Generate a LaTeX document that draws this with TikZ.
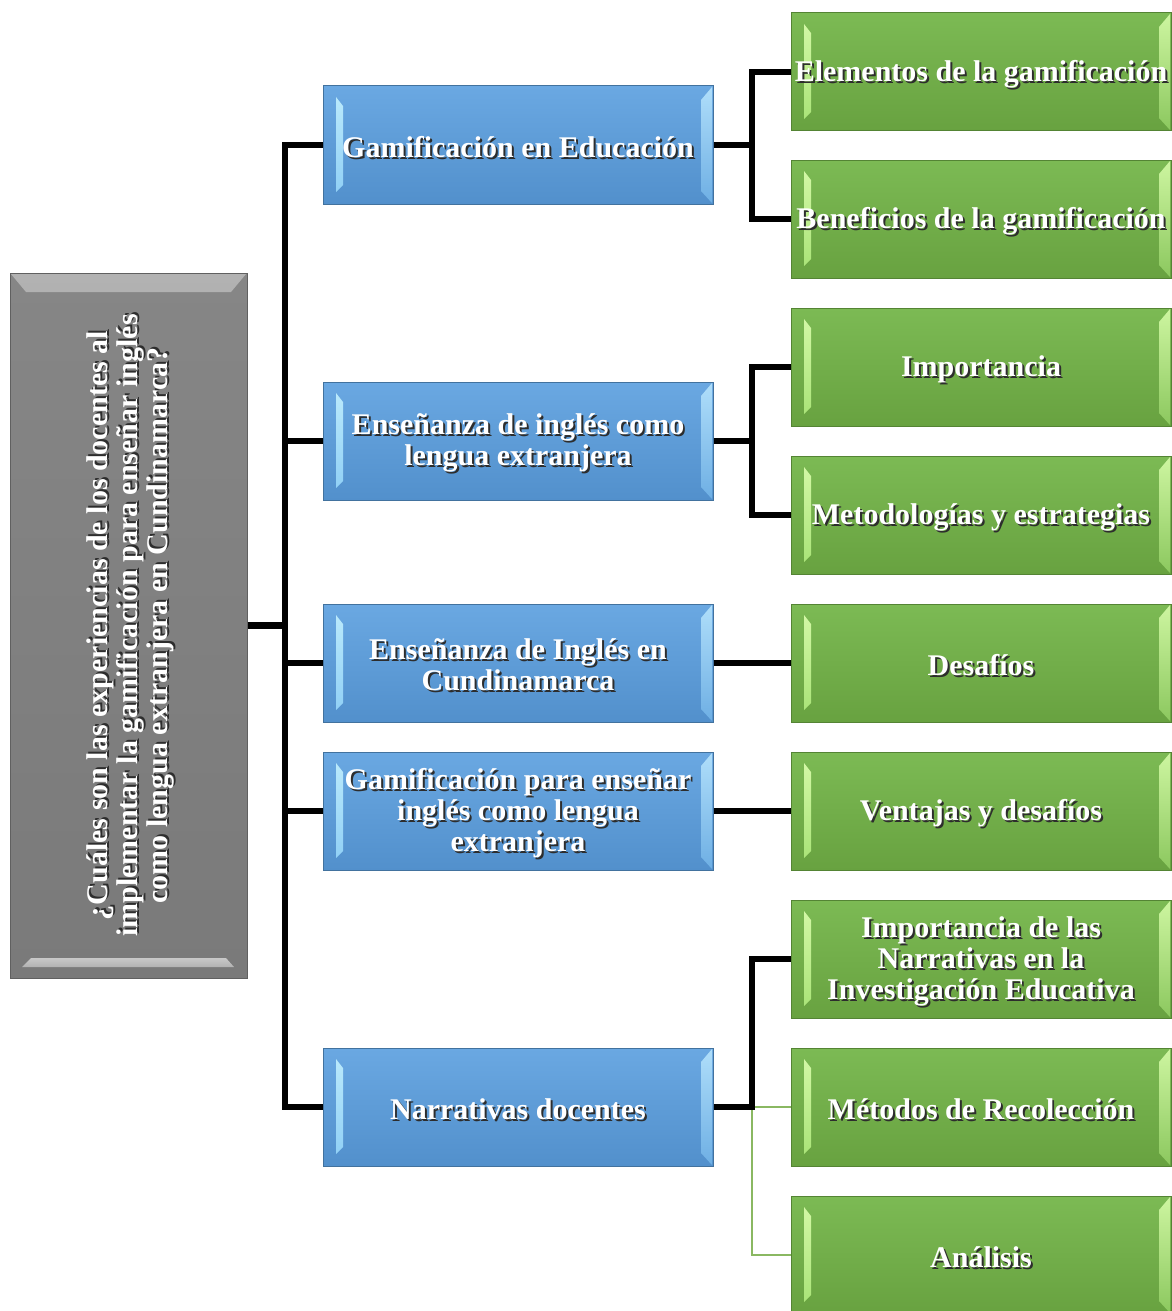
\documentclass[tikz,border=0pt]{standalone}
\usepackage{fontspec}
\setmainfont{Liberation Serif}
\usepackage{graphicx}
\usetikzlibrary{calc}

% fills, outlines and bevel highlights
\definecolor{bluetop}{RGB}{106,168,226}
\definecolor{bluebot}{RGB}{82,144,204}
\definecolor{blueline}{RGB}{66,114,158}
\definecolor{bluebevA}{RGB}{190,236,252}
\definecolor{bluebevB}{RGB}{140,205,245}
\definecolor{bluebevC}{RGB}{175,222,250}
\definecolor{bluebevD}{RGB}{110,175,228}
\definecolor{greentop}{RGB}{124,186,84}
\definecolor{greenbot}{RGB}{104,162,64}
\definecolor{greenline}{RGB}{84,132,52}
\definecolor{greenbevA}{RGB}{215,250,170}
\definecolor{greenbevB}{RGB}{165,225,115}
\definecolor{greenbevC}{RGB}{205,245,160}
\definecolor{greenbevD}{RGB}{140,200,95}
\definecolor{graytop}{RGB}{134,134,134}
\definecolor{graybot}{RGB}{122,122,122}
\definecolor{grayline}{RGB}{96,96,96}
\definecolor{graybevA}{RGB}{200,200,200}
\definecolor{graybevB}{RGB}{140,140,140}
\definecolor{graybevC}{RGB}{178,178,178}
\definecolor{thingreen}{RGB}{138,184,98}
\definecolor{txtshadow}{RGB}{45,45,45}

% white label with a soft dark drop shadow, set slightly low in its box
\newcommand{\sh}[1]{\raisebox{-3pt}[\height][\depth]{%
  \makebox[0pt][l]{\hspace{2pt}\raisebox{-2pt}{\textcolor{txtshadow}{#1}}}#1}}

\tikzset{
  conn/.style={line width=6.8pt, draw=black},
  thinconn/.style={line width=2pt, draw=thingreen},
  box/.style={rectangle, line width=1pt, minimum height=118pt, inner sep=0pt,
    align=center, text=white, font=\bfseries\fontsize{30}{31}\selectfont},
  % bevel slivers on the left and right sides of a box
  bevelLR/.style n args={4}{path picture={
    \shade[top color=#1, bottom color=#2]
      ([shift={(13,11)}]path picture bounding box.north west)
      -- ([shift={(20,20)}]path picture bounding box.north west)
      -- ([shift={(20,-19)}]path picture bounding box.south west)
      -- ([shift={(13,-12)}]path picture bounding box.south west) -- cycle;
    \shade[top color=#3, bottom color=#4]
      ([shift={(-1,1)}]path picture bounding box.north east)
      -- ([shift={(-12,14)}]path picture bounding box.north east)
      -- ([shift={(-12,-13)}]path picture bounding box.south east)
      -- ([shift={(-1,-1)}]path picture bounding box.south east) -- cycle;
  }},
  bluebox/.style={box, minimum width=390pt, draw=blueline,
    top color=bluetop, bottom color=bluebot,
    bevelLR={bluebevA}{bluebevB}{bluebevC}{bluebevD}},
  greenbox/.style={box, minimum width=380pt, draw=greenline,
    top color=greentop, bottom color=greenbot,
    bevelLR={greenbevA}{greenbevB}{greenbevC}{greenbevD}},
  % the vertical question box carries its bevels on top and bottom
  graybox/.style={rectangle, line width=1pt, minimum width=237pt,
    minimum height=705pt, inner sep=0pt, draw=grayline,
    top color=graytop, bottom color=graybot, text=white,
    font=\bfseries\fontsize{30}{29}\selectfont,
    path picture={
      \shade[top color=graybevC, bottom color=graybevB]
        ([shift={(1,1)}]path picture bounding box.north west)
        -- ([shift={(-1,1)}]path picture bounding box.north east)
        -- ([shift={(-16,19)}]path picture bounding box.north east)
        -- ([shift={(16,19)}]path picture bounding box.north west) -- cycle;
      \shade[top color=graybevA, bottom color=graybevC]
        ([shift={(21,-20)}]path picture bounding box.south west)
        -- ([shift={(-21,-20)}]path picture bounding box.south east)
        -- ([shift={(-13,-11)}]path picture bounding box.south east)
        -- ([shift={(12,-11)}]path picture bounding box.south west) -- cycle;
    }},
}

\begin{document}
\begin{tikzpicture}[x=1pt, y=-1pt]
\path[use as bounding box, fill=white] (0,0) rectangle (1171,1311);

% root question
\node[graybox] (root) at (128.5,625.5) {\rotatebox{90}{\begin{tabular}{@{}c@{}}
  \sh{¿Cuáles son las experiencias de los docentes al}\\
  \sh{implementar la gamificación para enseñar inglés}\\
  \sh{como lengua extranjera en Cundinamarca?}\end{tabular}}};

% main topics
\node[bluebox] (b1) at (518,145)  {\sh{Gamificación en Educación}};
\node[bluebox] (b2) at (518,441)  {\sh{Enseñanza de inglés como}\\\sh{lengua extranjera}};
\node[bluebox] (b3) at (518,663)  {\sh{Enseñanza de Inglés en}\\\sh{Cundinamarca}};
\node[bluebox] (b4) at (518,811)  {\sh{Gamificación para enseñar}\\\sh{inglés como lengua}\\\sh{extranjera}};
\node[bluebox] (b5) at (518,1107) {\sh{Narrativas docentes}};

% subtopics
\node[greenbox] (g1) at (981,72)   {\sh{Elementos de la gamificación}};
\node[greenbox] (g2) at (981,219)  {\sh{Beneficios de la gamificación}};
\node[greenbox] (g3) at (981,367)  {\sh{Importancia}};
\node[greenbox] (g4) at (981,515)  {\sh{Metodologías y estrategias}};
\node[greenbox] (g5) at (981,663)  {\sh{Desafíos}};
\node[greenbox] (g6) at (981,811)  {\sh{Ventajas y desafíos}};
\node[greenbox] (g7) at (981,959)  {\sh{Importancia de las}\\\sh{Narrativas en la}\\\sh{Investigación Educativa}};
\node[greenbox] (g8) at (981,1107) {\sh{Métodos de Recolección}};
\node[greenbox] (g9) at (981,1255) {\sh{Análisis}};

% junction points
\coordinate (tr) at (285,625.5);
\coordinate (f1) at (752,145);
\coordinate (f2) at (752,441);
\coordinate (f5) at (752,1107);

% trunk from the question to the topics
\draw[conn] (root.east) -- (tr);
\draw[conn] (b1.west) -| (tr) |- (b5.west);
\draw[conn] (b2.west) -- (b2.west -| tr);
\draw[conn] (b3.west) -- (b3.west -| tr);
\draw[conn] (b4.west) -- (b4.west -| tr);

% topic to subtopic branches
\draw[conn] (b1.east) -- (f1);
\draw[conn] (g1.west) -| (f1) |- (g2.west);
\draw[conn] (b2.east) -- (f2);
\draw[conn] (g3.west) -| (f2) |- (g4.west);
\draw[conn] (b3.east) -- (g5.west);
\draw[conn] (b4.east) -- (g6.west);
\draw[thinconn] (g8.west) -- (f5);
\draw[thinconn] (g9.west) -| (f5);
\draw[conn] (g7.west) -| (f5) -- (b5.east);
\end{tikzpicture}
\end{document}
